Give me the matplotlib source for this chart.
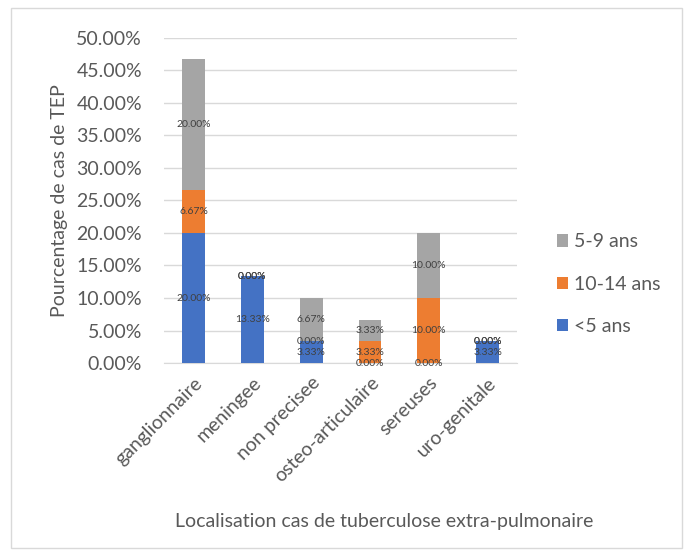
import matplotlib
matplotlib.use("Agg")
import matplotlib.pyplot as plt
from matplotlib.patches import Rectangle
import numpy as np

plt.rcParams['font.family'] = ['Lato', 'DejaVu Sans']

categories = ["ganglionnaire", "meningee", "non precisee", "osteo-articulaire", "sereuses", "uro-genitale"]
lt5 = [20.00, 13.33, 3.33, 0.00, 0.00, 3.33]
a10_14 = [6.67, 0.00, 0.00, 3.33, 10.00, 0.00]
a5_9 = [20.00, 0.00, 6.67, 3.33, 10.00, 0.00]
series = [("<5 ans", lt5, "#4472C4"), ("10-14 ans", a10_14, "#ED7D31"), ("5-9 ans", a5_9, "#A5A5A5")]
yticks = [0, 5, 10, 15, 20, 25, 30, 35, 40, 45, 50]

fig = plt.figure(figsize=(6.93, 5.56), dpi=100)
fig.patches.append(Rectangle((0.016, 0.014), 0.968, 0.972, transform=fig.transFigure,
                             fill=False, edgecolor="#D9D9D9", linewidth=1))
ax = fig.add_axes([0.237, 0.347, 0.509, 0.585])

x = np.arange(len(categories))
bottom = np.zeros(len(categories))
handles = []
for name, vals, col in series:
    v = np.array(vals)
    b = ax.bar(x, v, 0.39, bottom=bottom, color=col, label=name, zorder=3)
    handles.append(b)
    for xi, vi, bi in zip(x, v, bottom):
        ax.text(xi, bi + vi / 2, f"{vi:.2f}%", ha="center", va="center",
                fontsize=7.5, color="#404040", zorder=4)
    bottom = bottom + v

ax.set_xlim(-0.5, len(categories) - 0.5)
ax.set_ylim(0, 50)
ax.set_yticks(yticks)
ax.set_yticklabels([f"{t:.2f}%" for t in yticks], fontsize=14, color="#595959")
ax.set_xticks(x)
ax.set_xticklabels(categories, rotation=45, ha="right", rotation_mode="anchor",
                   fontsize=14, color="#595959")
ax.tick_params(axis="y", length=0, pad=16)
ax.tick_params(axis="x", length=0, pad=8)
ax.yaxis.grid(True, color="#D9D9D9", linewidth=1, zorder=0)
for s in ["top", "right", "left"]:
    ax.spines[s].set_visible(False)
ax.spines["bottom"].set_color("#D9D9D9")
ax.set_ylabel("Pourcentage de cas de TEP", fontsize=14, color="#595959", labelpad=6)
fig.text(0.555, 0.062, "Localisation cas de tuberculose extra-pulmonaire",
         ha="center", va="center", fontsize=14, color="#595959")

leg = fig.legend(handles=handles[::-1], labels=[s[0] for s in series][::-1],
                 loc="center left", bbox_to_anchor=(0.778, 0.489), frameon=False,
                 fontsize=14, labelcolor="#595959", handlelength=0.6, handleheight=0.6,
                 handletextpad=0.3, labelspacing=1.3)

fig.savefig("out.png", dpi=100)
